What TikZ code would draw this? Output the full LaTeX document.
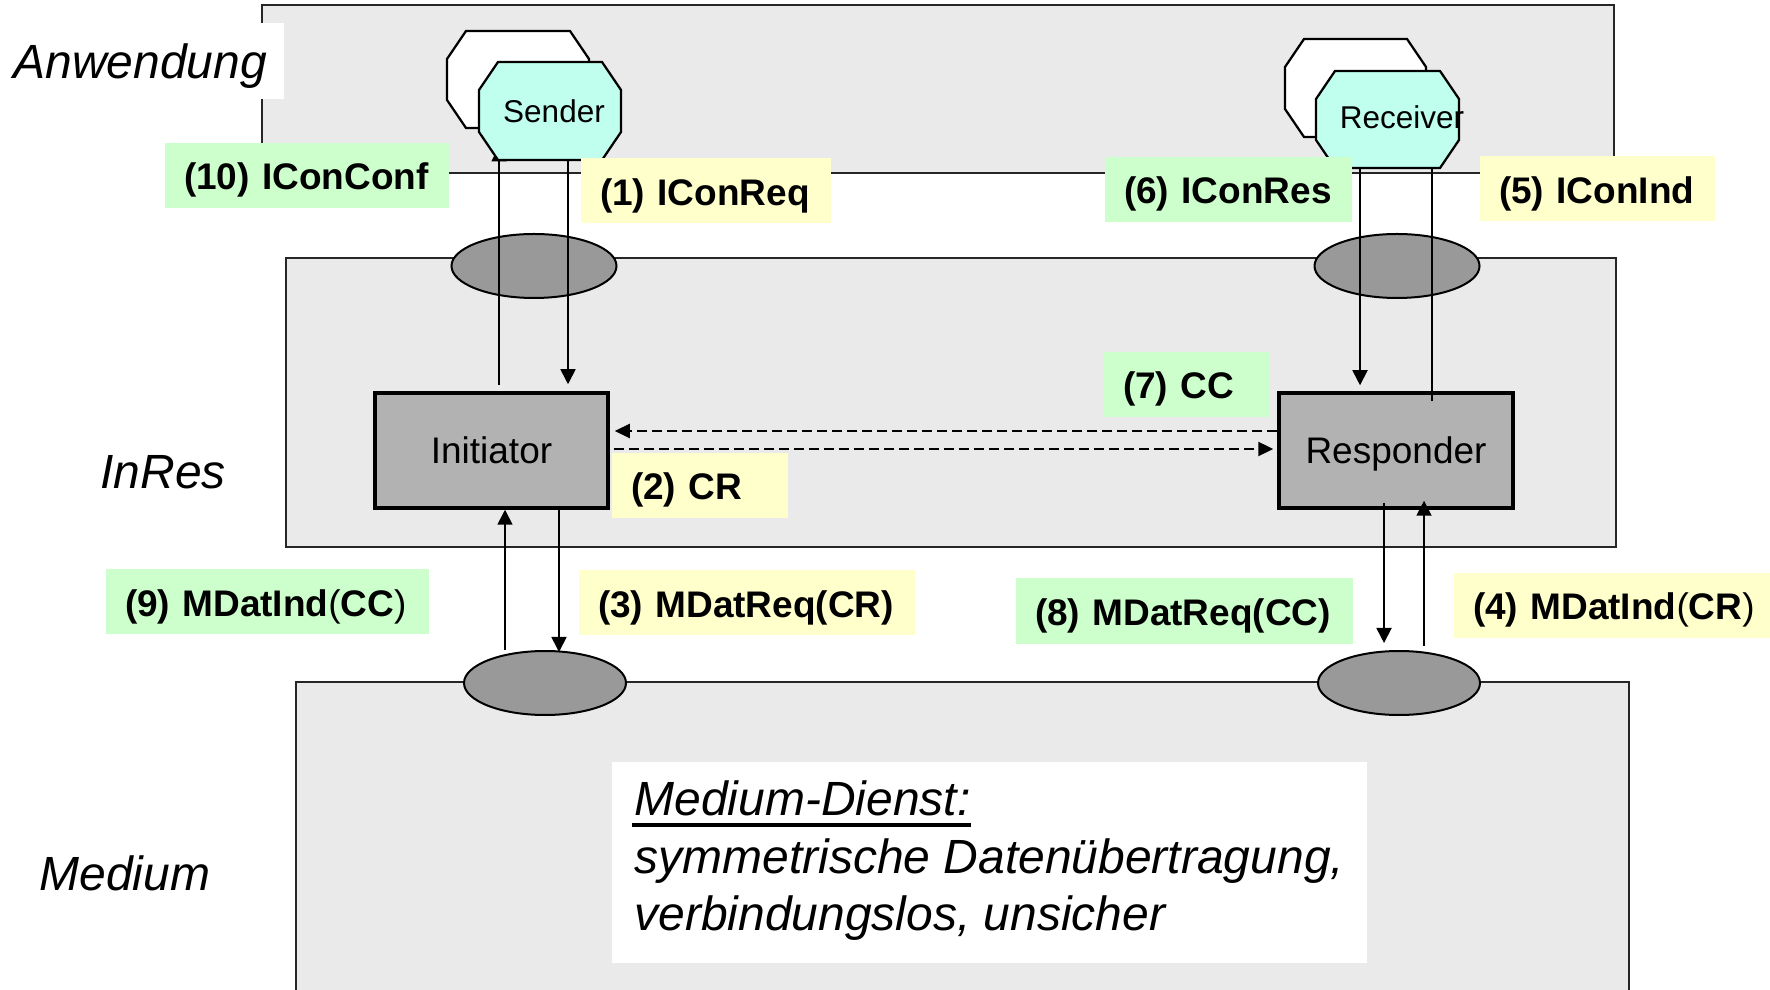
\documentclass[tikz,border=0pt]{standalone}
\usepackage{fontspec}
\setmainfont{Liberation Sans}
\usetikzlibrary{arrows.meta,shapes.geometric,calc}

\definecolor{paneFill}{HTML}{EAEAEA}
\definecolor{portGray}{HTML}{999999}
\definecolor{entityGray}{HTML}{B2B2B2}
\definecolor{userCyan}{HTML}{C0FFEE}
\definecolor{lblGreen}{HTML}{CCFFCC}
\definecolor{lblYellow}{HTML}{FFFFCC}

% chamfered user box: left, top, right, bottom, style
\newcommand\userOctagon[5]{%
  \filldraw[#5] ({#1+19},#2) -- ({#3-19},#2) -- (#3,{#2+28}) -- (#3,{#4-28})
    -- ({#3-19},#4) -- ({#1+19},#4) -- (#1,{#4-28}) -- (#1,{#2+28}) -- cycle;}

\begin{document}
\begin{tikzpicture}[x=0.4pt,y=-0.4pt,
  pane/.style={fill=paneFill, draw=black!85, line width=0.8pt},
  port/.style={ellipse, draw=black, line width=0.8pt, fill=portGray, inner sep=0pt},
  entity/.style={draw=black, line width=1.4pt, fill=entityGray, inner sep=0pt,
    text height=10.8pt, text depth=0pt, font=\fontsize{14.8}{17}\selectfont},
  octbox/.style={inner sep=0pt, minimum width=56.8pt, minimum height=39.2pt},
  usertext/.style={inner sep=0pt, font=\fontsize{12.6}{15}\selectfont},
  layername/.style={inner sep=0pt, anchor=base west, font=\itshape\fontsize{19.2}{23}\selectfont},
  dienst/.style={inner sep=0pt, anchor=base west, font=\itshape\fontsize{19.2}{23}\selectfont},
  msg/.style={inner xsep=0pt, inner ysep=0pt, text height=11.6pt, text depth=0pt,
    minimum height=26pt, align=left, font=\bfseries\fontsize{14.8}{17}\selectfont,
    execute at begin node={\hspace*{7.6pt}}},
  msgG/.style={msg, fill=lblGreen, text width=#1},
  msgY/.style={msg, fill=lblYellow, text width=#1},
  arr/.style={line width=0.7pt, -{Triangle[length=6pt,width=6pt]}},
  darr/.style={line width=0.9pt, dash pattern=on 4pt off 2pt, -{Triangle[length=6pt,width=5.6pt]}},
]
\useasboundingbox (0,0) rectangle (1770,990);
\clip (0,0) rectangle (1770,990);

% layers
\filldraw[pane] (262,5) rectangle (1614,173);
\filldraw[pane] (286,258) rectangle (1616,547);
\filldraw[pane] (296,682) rectangle (1629,1010);
\fill[white] (4,23) rectangle (284,99);

\node[layername] (anwLbl) at (13,79) {Anwendung};
\node[layername] (inresLbl) at (100,489) {InRes};
\node[layername] (medLbl) at (39,890) {Medium};

% service access points
\node[port, minimum width=66pt, minimum height=25.6pt] (portS) at (534,266) {};
\node[port, minimum width=66pt, minimum height=25.6pt] (portR) at (1397,266) {};
\node[port, minimum width=64.8pt, minimum height=25.6pt] (portMI) at (545,683) {};
\node[port, minimum width=64.8pt, minimum height=25.6pt] (portMR) at (1399,683) {};

% protocol entities
\node[entity, minimum width=93.2pt, minimum height=46pt] (init) at (491.5,450.5) {Initiator};
\node[entity, minimum width=93.6pt, minimum height=46pt] (resp) at (1396,450.5) {Responder};

% user boxes (anchors for the connectors)
\node[octbox] (sender) at (550,111) {};
\node[octbox] (receiver) at (1387.5,119.5) {};

% connector columns and rows
\coordinate (xConf) at (499,0);
\coordinate (xReq) at (568,0);
\coordinate (xRes) at (1360,0);
\coordinate (xInd) at (1432,0);
\coordinate (xMIndL) at (505,0);
\coordinate (xMReqL) at (559,0);
\coordinate (xMReqR) at (1384,0);
\coordinate (xMIndR) at (1424,0);
\coordinate (yCC) at (0,431);
\coordinate (yCR) at (0,449);

% primitives between user and InRes (upward tips end under the user boxes)
\draw[arr] ($(init.north -| xConf)+(0,-6)$) -- ($(sender.south -| xConf)+(0,-14)$);
\draw[arr] (sender.south -| xReq) -- ($(init.north -| xReq)+(0,-7)$);
\draw[arr] (receiver.south -| xRes) -- ($(resp.north -| xRes)+(0,-6)$);
\draw[arr] ($(resp.north -| xInd)+(0,10)$) -- ($(receiver.south -| xInd)+(0,-18)$);

% protocol data units
\draw[darr] (resp.west |- yCC) -- ($(init.east |- yCC)+(5,0)$);
\draw[darr] ($(init.east |- yCR)+(4,0)$) -- ($(resp.west |- yCR)+(-4,0)$);

% primitives between InRes and medium
\draw[arr] (portMI.north -| xMIndL) -- (init.south -| xMIndL);
\draw[arr] (init.south -| xMReqL) -- ($(portMI.north -| xMReqL)+(0,2)$);
\draw[arr] ($(resp.south -| xMReqR)+(0,-7)$) -- ($(portMR.north -| xMReqR)+(0,-7)$);
\draw[arr] ($(portMR.north -| xMIndR)+(0,-4)$) -- ($(resp.south -| xMIndR)+(0,-9)$);

% user instances
\userOctagon{447}{31}{589}{128}{fill=white, draw=black, line width=0.9pt}
\userOctagon{479}{62}{621}{160}{fill=userCyan, draw=black, line width=0.9pt}
\userOctagon{1285}{39}{1426}{137}{fill=white, draw=black, line width=0.9pt}
\userOctagon{1316}{71}{1459}{168}{fill=userCyan, draw=black, line width=0.9pt}
\node[usertext] (senderTxt) at (554,111) {Sender};
\node[usertext] (receiverTxt) at (1402,117) {Receiver};

% message labels
\node[msgG=113.6pt] (l10) at (307,175.5) {(10) IConConf};
\node[msgY=100pt] (l1) at (706,191) {(1) IConReq};
\node[msgG=98.8pt] (l6) at (1228.5,189.5) {(6) IConRes};
\node[msgY=94pt] (l5) at (1597.5,189) {(5) IConInd};
\node[msgG=66.4pt] (l7) at (1187,384.5) {(7) CC};
\node[msgY=70.4pt] (l2) at (700,485.5) {(2) CR};
\node[msgG=129.2pt] (l9) at (267.5,602) {(9) MDatInd{\mdseries(}CC{\mdseries)}};
\node[msgY=134.4pt] (l3) at (747,603) {(3) MDatReq(CR)};
\node[msgG=134.8pt] (l8) at (1184.5,611) {(8) MDatReq(CC)};
\node[msgY=136pt] (l4) at (1624,605.5) {(4) MDatInd{\mdseries(}CR{\mdseries)}};

% medium service description
\node[fill=white, inner sep=0pt, minimum width=302pt, minimum height=80.4pt] (mdBox) at (989.5,862.5) {};
\node[dienst] (mdHead) at (634,815) {Medium-Dienst:};
\draw[line width=1.6pt] ($(mdHead.base west)+(-2,9.5)$) -- ($(mdHead.base east)+(0,9.5)$);
\node[dienst] (mdLine1) at (634,873) {symmetrische Datenübertragung,};
\node[dienst] (mdLine2) at (634,930) {verbindungslos, unsicher};
\end{tikzpicture}
\end{document}
